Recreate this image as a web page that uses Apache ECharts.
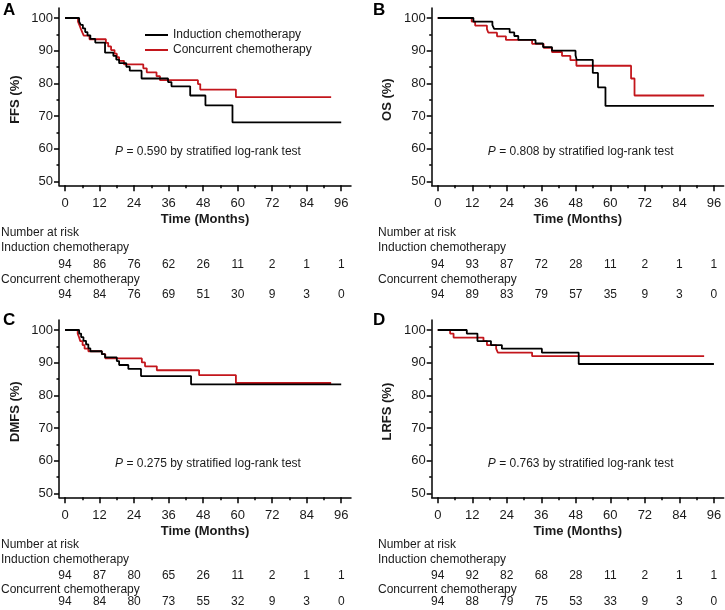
<!DOCTYPE html>
<html>
<head>
<meta charset="utf-8">
<script src="https://cdn.jsdelivr.net/npm/echarts@6/dist/echarts.min.js"></script>
<style>html,body{margin:0;padding:0;background:#fff;}#c{width:725px;height:610px;}</style>
</head>
<body>
<div id="c"></div>
<script>
// ---- data ----
const timeTicks = [0, 12, 24, 36, 48, 60, 72, 84, 96];
const timeMinorTicks = [6, 18, 30, 42, 54, 66, 78, 90];
const yTicks = [50, 60, 70, 80, 90, 100];
const yMinorTicks = [55, 65, 75, 85, 95];
const groupNames = ['Induction chemotherapy', 'Concurrent chemotherapy'];
const panelLetters = ['A', 'B', 'C', 'D'];
const yNames = ['FFS (%)', 'OS (%)', 'DMFS (%)', 'LRFS (%)'];
const pValues = ['0.590', '0.808', '0.275', '0.763'];

const ffsInduction = [[0,100],[4.9,98.9],[5.5,97.9],[6.2,96.8],[7.0,95.7],[7.8,94.7],[8.8,93.6],[10.5,92.5],[13.9,89.4],[16.8,88.4],[17.8,87.3],[18.8,86.2],[21.3,85.1],[22.5,83.9],[26.6,81.5],[35.8,80.4],[37.0,79.1],[43.5,76.3],[48.8,73.3],[58.2,68.1],[96,68.1]];
const ffsConcurrent = [[0,100],[4.5,98.9],[5.0,97.8],[5.5,96.7],[6.0,95.6],[6.5,94.6],[8.5,93.5],[14.2,92.4],[15.0,91.3],[16.0,90.2],[17.2,89.1],[18.0,88.0],[18.8,86.9],[20.5,85.8],[27.2,84.6],[28.4,83.4],[31.8,82.2],[33.0,81.0],[46.2,79.8],[47.0,78.1],[59.4,75.8],[92.5,75.8]];
const osInduction = [[0,100],[12.4,98.9],[19.0,97.8],[19.6,96.7],[25.0,95.6],[26.6,94.5],[28.0,93.3],[34.0,92.2],[36.6,91.1],[39.7,90.0],[47.9,88.6],[48.3,87.2],[53.9,83.2],[55.7,78.8],[58.3,73.1],[96,73.1]];
const osConcurrent = [[0,100],[11.8,98.9],[13.0,97.7],[17.1,96.6],[17.6,95.5],[20.6,94.4],[23.7,93.3],[32.8,92.1],[36.8,90.9],[39.7,89.6],[43.2,88.4],[46.1,87.1],[48.2,85.4],[67.2,81.5],[68.4,76.3],[92.6,76.3]];
const dmfsInduction = [[0,100],[4.9,98.9],[5.6,97.8],[6.4,96.7],[7.3,95.6],[8.1,94.4],[8.8,93.5],[12.8,92.6],[13.9,91.6],[18.0,90.5],[18.8,89.3],[22.0,88.1],[26.4,85.9],[43.8,83.4],[96,83.4]];
const dmfsConcurrent = [[0,100],[4.4,98.9],[4.9,97.7],[5.3,96.6],[6.1,95.4],[6.8,94.3],[8.1,93.5],[12.8,92.6],[14.0,91.3],[26.7,90.1],[27.8,88.9],[31.9,87.7],[46.6,86.2],[59.4,83.8],[92.5,83.8]];
const lrfsInduction = [[0,100],[10.1,98.9],[13.8,96.6],[18.5,95.4],[22.3,94.3],[36.2,93.1],[49.0,89.6],[96,89.6]];
const lrfsConcurrent = [[0,100],[4.3,98.9],[5.5,97.7],[15.9,96.6],[17.1,95.4],[20.3,94.3],[20.9,93.1],[32.8,92.0],[92.6,92.0]];

const riskFFSInd = [94, 86, 76, 62, 26, 11, 2, 1, 1];
const riskFFSCon = [94, 84, 76, 69, 51, 30, 9, 3, 0];
const riskOSInd = [94, 93, 87, 72, 28, 11, 2, 1, 1];
const riskOSCon = [94, 89, 83, 79, 57, 35, 9, 3, 0];
const riskDMFSInd = [94, 87, 80, 65, 26, 11, 2, 1, 1];
const riskDMFSCon = [94, 84, 80, 73, 55, 32, 9, 3, 0];
const riskLRFSInd = [94, 92, 82, 68, 28, 11, 2, 1, 1];
const riskLRFSCon = [94, 88, 79, 75, 53, 33, 9, 3, 0];

const curves = [
  [ffsInduction, ffsConcurrent],
  [osInduction, osConcurrent],
  [dmfsInduction, dmfsConcurrent],
  [lrfsInduction, lrfsConcurrent]
];
const risks = [
  [riskFFSInd, riskFFSCon],
  [riskOSInd, riskOSCon],
  [riskDMFSInd, riskDMFSCon],
  [riskLRFSInd, riskLRFSCon]
];

// ---- layout / style ----
const FF = 'Liberation Sans, Arial, Helvetica, sans-serif';
const TXT = '#1a1a1a';
const colors = ['#000000', '#c3161c'];
const gridW = 292, gridH = 177.3;
const gridPos = [[59, 8], [431.7, 8], [59, 320], [431.7, 320]];
const xMin = -2.1, xMax = 99.4, yMin = 48.84, yMax = 103.06;
// risk table rows (y of text centres) for top and bottom panel rows
const rowLayout = [
  {nar: 233, ind: 248, num1: 264.5, con: 279.5, num2: 295},
  {nar: 545, ind: 560, num1: 576, con: 589.5, num2: 601.5}
];

const grids = [], xAxes = [], yAxes = [], series = [], graphics = [];
for (let p = 0; p < 4; p++) {
  const [gl, gt] = gridPos[p];
  const axisY = gt + gridH;
  const rl = rowLayout[p < 2 ? 0 : 1];
  grids.push({left: gl, top: gt, width: gridW, height: gridH, containLabel: false});
  const common = {gridIndex: p, type: 'value', min: xMin, max: xMax, position: 'bottom', splitLine: {show: false}};
  xAxes.push(Object.assign({}, common, {
    axisLine: {show: true, onZero: false, lineStyle: {color: '#000', width: 1.5}},
    axisTick: {show: true, customValues: timeTicks, length: 6, lineStyle: {color: '#000', width: 1.5}},
    axisLabel: {show: true, customValues: timeTicks, fontSize: 13, fontFamily: FF, color: TXT, margin: 18, verticalAlign: 'middle'},
    name: 'Time (Months)', nameLocation: 'middle', nameGap: 34,
    nameTextStyle: {fontWeight: 'bold', fontSize: 13, fontFamily: FF, color: TXT, verticalAlign: 'middle'}
  }));
  xAxes.push(Object.assign({}, common, {
    axisLine: {show: false, onZero: false},
    axisTick: {show: true, customValues: timeMinorTicks, length: 3, lineStyle: {color: '#000', width: 1.5}},
    axisLabel: {show: false}
  }));
  [rl.num1 - axisY, rl.num2 - axisY].forEach((off, g) => {
    const arr = risks[p][g];
    xAxes.push(Object.assign({}, common, {
      offset: off,
      axisLine: {show: false, onZero: false},
      axisTick: {show: false},
      axisLabel: {show: true, customValues: timeTicks, margin: 0, verticalAlign: 'middle', fontSize: 12, fontFamily: FF, color: TXT,
        formatter: v => String(arr[Math.round(v / 12)])}
    }));
  });
  const ycommon = {gridIndex: p, type: 'value', min: yMin, max: yMax, position: 'left', splitLine: {show: false}};
  yAxes.push(Object.assign({}, ycommon, {
    axisLine: {show: true, onZero: false, lineStyle: {color: '#000', width: 1.5}},
    axisTick: {show: true, customValues: yTicks, length: 5, lineStyle: {color: '#000', width: 1.5}},
    axisLabel: {show: true, customValues: yTicks, fontSize: 13, fontFamily: FF, color: TXT, margin: 6},
    name: yNames[p], nameLocation: 'middle', nameGap: 44,
    nameTextStyle: {fontWeight: 'bold', fontSize: 13, fontFamily: FF, color: TXT, verticalAlign: 'middle', padding: [0, 6, 0, 0]}
  }));
  yAxes.push(Object.assign({}, ycommon, {
    axisLine: {show: false, onZero: false},
    axisTick: {show: true, customValues: yMinorTicks, length: 2.5, lineStyle: {color: '#000', width: 1.5}},
    axisLabel: {show: false}
  }));
  for (let g = 0; g < 2; g++) {
    series.push({
      type: 'line', name: groupNames[g], xAxisIndex: 4 * p, yAxisIndex: 2 * p,
      data: curves[p][g], step: 'end', showSymbol: false, symbol: 'none',
      color: colors[g], lineStyle: {color: colors[g], width: 1.8}, z: g === 0 ? 3 : 2
    });
  }
  // panel texts
  const tx = p % 2 === 0 ? 1 : 378;
  const dy = p < 2 ? 0 : 312;
  graphics.push({type: 'text', x: p % 2 === 0 ? 3 : 373, y: (p < 2 ? 2 : 312), style: {text: panelLetters[p], font: 'bold 17px ' + FF, fill: '#000', align: 'left', verticalAlign: 'top'}});
  graphics.push({type: 'text', x: tx, y: rl.nar, style: {text: 'Number at risk', font: '12px ' + FF, fill: TXT, align: 'left', verticalAlign: 'middle'}});
  graphics.push({type: 'text', x: tx, y: rl.ind, style: {text: groupNames[0], font: '12px ' + FF, fill: TXT, align: 'left', verticalAlign: 'middle'}});
  graphics.push({type: 'text', x: tx, y: rl.con, style: {text: groupNames[1], font: '12px ' + FF, fill: TXT, align: 'left', verticalAlign: 'middle'}});
  graphics.push({type: 'text', x: gl + 149, y: 152 + dy, style: {
    text: '{i|P} = ' + pValues[p] + ' by stratified log-rank test',
    font: '12px ' + FF, fill: TXT, align: 'center', verticalAlign: 'middle',
    rich: {i: {fontStyle: 'italic', fontSize: 12, fontFamily: FF, fill: TXT}}
  }});
}

const chart = echarts.init(document.getElementById('c'), null, {renderer: 'canvas'});
chart.setOption({
  animation: false,
  backgroundColor: '#fff',
  grid: grids,
  xAxis: xAxes,
  yAxis: yAxes,
  legend: {
    show: true, left: 140, top: 24, orient: 'vertical', icon: 'rect',
    itemWidth: 23, itemHeight: 2, itemGap: 3,
    data: groupNames,
    textStyle: {fontSize: 12, fontFamily: FF, color: TXT}
  },
  series: series,
  graphic: graphics
});
</script>
</body>
</html>
